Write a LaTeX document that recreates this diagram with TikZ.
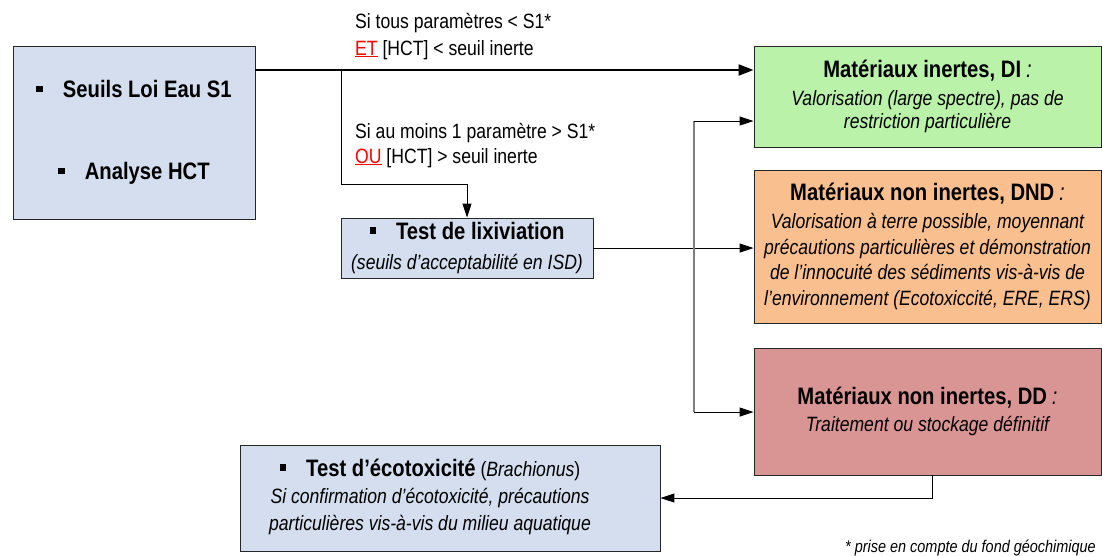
\documentclass[tikz,border=0pt]{standalone}
\usepackage{fontspec}
\setmainfont{Liberation Sans}[FakeStretch=0.85]
\usetikzlibrary{arrows.meta,shadows}

\definecolor{boxblue}{HTML}{D4DEEE}
\definecolor{boxgreen}{HTML}{BAF2AA}
\definecolor{boxorange}{HTML}{FABF8F}
\definecolor{boxred}{HTML}{D99594}
\definecolor{linegrey}{HTML}{7F7F7F}

% bold box titles and the square list bullet
\newcommand{\titlef}{\fontsize{23.8}{27}\selectfont\upshape\bfseries}
\newcommand{\colonf}{\fontsize{23.8}{27}\selectfont\mdseries\itshape}
\newcommand{\sqb}{\rule[5.5pt]{6.5pt}{6.5pt}\hspace{20pt}}

\begin{document}
\begin{tikzpicture}[x=1pt,y=-1pt,
  box/.style={draw=black!85, line width=0.9pt, rectangle, inner sep=0pt,
    align=center, drop shadow={shadow xshift=1.2pt, shadow yshift=-1.2pt,
    fill=black!45, opacity=0.6}},
  lbl/.style={inner sep=0pt, align=left},
  conn/.style={line width=1pt, draw=black},
  arr/.style={conn, -{Triangle[length=14pt,width=9pt]}},
  mainarr/.style={line width=2.2pt, draw=black, -{Triangle[length=15pt,width=11pt]}},
  greyline/.style={line width=1.2pt, draw=linegrey}
]
\useasboundingbox (0,0) rectangle (1102,555);

% input box
\node[box, fill=boxblue, minimum width=242pt, minimum height=173pt,
  font=\titlef] (A) at (134,132.5)
  {\sqb Seuils Loi Eau S1\\[55pt]\sqb Analyse HCT};

% outcome boxes
\node[box, fill=boxgreen, minimum width=347pt, minimum height=101pt,
  font=\fontsize{20.7}{23}\selectfont\itshape] (green) at (927.5,96.5)
  {{\titlef Matériaux inertes, DI} {\colonf :}\\[5pt]
   Valorisation (large spectre), pas de\\
   restriction particulière};

\node[box, fill=boxorange, minimum width=347pt, minimum height=153pt,
  font=\fontsize{20.7}{25.5}\selectfont\itshape] (orange) at (927.5,246.5)
  {{\titlef Matériaux non inertes, DND} {\colonf :}\\[2.5pt]
   Valorisation à terre possible, moyennant\\
   précautions particulières et démonstration\\
   de l’innocuité des sédiments vis-à-vis de\\
   l’environnement (Ecotoxiccité, ERE, ERS)};

\node[box, fill=boxred, minimum width=347pt, minimum height=127pt,
  font=\fontsize{20.7}{27}\selectfont\itshape] (red) at (927.5,411.5)
  {{\titlef Matériaux non inertes, DD} {\colonf :}\\
   Traitement ou stockage définitif};

% test boxes
\node[box, fill=boxblue, minimum width=252pt, minimum height=60pt,
  font=\fontsize{20.7}{30}\selectfont\itshape] (lix) at (467,248)
  {{\titlef\sqb Test de lixiviation}\\
   (seuils d’acceptabilité en ISD)};

% text block sits 20pt left of the box centre
\node[box, fill=boxblue, minimum width=420pt, minimum height=106pt,
  font=\fontsize{20.7}{27}\selectfont\itshape] (eco) at (450,498)
  {\begin{tabular}{@{}c@{}}
   {\titlef\sqb Test d’écotoxicité} {\upshape(}Brachionus{\upshape)}\\
   Si confirmation d’écotoxicité, précautions\\
   particulières vis-à-vis du milieu aquatique
   \end{tabular}\hspace*{40pt}};

% branch conditions
\node[lbl, anchor=base west, font=\fontsize{20.7}{27}\selectfont] (cond1) at (355,55)
  {Si tous paramètres < S1*\\{\color{red}\underline{ET}} [HCT] < seuil inerte};
\node[lbl, anchor=base west, font=\fontsize{20.7}{25}\selectfont] (cond2) at (355,163)
  {Si au moins 1 paramètre > S1*\\{\color{red}\underline{OU}} [HCT] > seuil inerte};

% footnote
\node[inner sep=0pt, anchor=base east, font=\fontsize{17}{18}\selectfont\itshape]
  (note) at (1096,552) {* prise en compte du fond géochimique};

% connectors
\coordinate (mainy) at (0,70);
\coordinate (split) at (341,70);
\coordinate (bend) at (0,184);
\coordinate (vtop) at (694,121);
\coordinate (vbot) at (694,412);

\draw[mainarr] (A.east |- mainy) -- (green.west |- mainy);
\draw[arr] (split) |- (lix.north |- bend) -- (lix.north);
\draw[arr] (lix.east) -- (orange.west |- lix.east);
\draw[greyline] (vtop) -- (vbot);
\draw[arr] (vtop) -- (green.west |- vtop);
\draw[arr] (vbot) -- (red.west |- vbot);
\draw[arr] ([xshift=4.5pt]red.south) |- (eco.east);
\end{tikzpicture}
\end{document}
